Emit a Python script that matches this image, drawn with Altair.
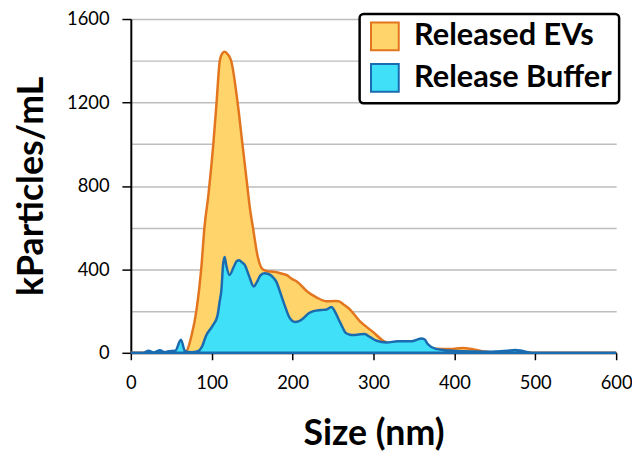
import altair as alt
import pandas as pd

series_names = ["Released EVs", "Release Buffer"]

ev_size = [0, 60, 69, 75, 81, 87, 91, 96, 102, 106, 110, 113, 116, 120, 124, 132, 138, 144, 147,
           151, 157, 163, 170, 177, 186, 194, 198, 206, 218, 230, 242, 252, 257, 263, 269, 283, 300,
           312, 324, 340, 361, 377, 395, 410, 425, 440, 455, 600]
ev_conc = [0, 0, 10, 82, 200, 400, 600, 760, 1000, 1200, 1400, 1435, 1443, 1430, 1400, 1200, 1000, 800, 700,
           600, 459, 400, 390, 389, 380, 370, 357, 340, 294, 265, 247, 248, 247, 232, 215, 152, 98,
           58, 42, 38, 35, 19, 18, 23, 15, 5, 0, 0]

buf_size = [0, 15, 22, 28, 36, 42, 47, 55, 62, 67, 75, 83, 88, 93, 101, 107, 110, 112, 114, 116, 118, 122,
            127, 131, 134, 137, 141, 146, 152, 156, 160, 165, 170, 175, 180, 185, 190, 196, 203, 208,
            214, 220, 226, 235, 242, 248, 252, 257, 262, 265, 270, 275, 282, 289, 296, 304, 316, 330,
            345, 352, 359, 363, 367, 377, 393, 410, 440, 451, 465, 475, 483, 491, 500, 600]
buf_conc = [0, 0, 10, 2, 12, 3, 8, 10, 63, 8, 3, 8, 30, 82, 129, 176, 250, 302, 420, 459, 420, 373,
            410, 440, 444, 435, 420, 370, 318, 340, 370, 381, 378, 365, 340, 286, 230, 170, 148, 152,
            168, 190, 200, 205, 208, 220, 200, 160, 120, 98, 88, 85, 88, 90, 75, 58, 50, 55,
            55, 60, 69, 65, 42, 19, 11, 7, 5, 6, 10, 14, 10, 3, 0, 0]

x_ticks = [0, 100, 200, 300, 400, 500, 600]
y_grid = [0, 200, 400, 600, 800, 1000, 1200, 1400, 1600]

df = pd.concat([
    pd.DataFrame({"size": ev_size, "conc": ev_conc, "series": series_names[0]}),
    pd.DataFrame({"size": buf_size, "conc": buf_conc, "series": series_names[1]}),
])

FONT = "Lato"

fill_scale = alt.Scale(domain=series_names, range=["#FFD56B", "#3FE0F8"])
stroke_scale = alt.Scale(domain=series_names, range=["#E2751E", "#1A6BB0"])

x_enc = alt.X("size:Q", scale=alt.Scale(domain=[0, 600], nice=False),
              axis=alt.Axis(values=x_ticks, title="Size (nm)", grid=False, format="d",
                            labelFlush=False,
                            domainColor="black", domainWidth=2, tickColor="black",
                            tickWidth=1.5, tickSize=7, labelFontSize=18.5, labelFont=FONT,
                            labelColor="black", labelPadding=14,
                            titleFontSize=36, titleFont=FONT, titleFontWeight="bold",
                            titleColor="black", titlePadding=25))
y_enc = alt.Y("conc:Q", scale=alt.Scale(domain=[0, 1600], nice=False),
              stack=None,
              axis=alt.Axis(values=y_grid, title="kParticles/mL", grid=True, format="d",
                            labelFlush=False,
                            gridColor="#BDBDBD", gridWidth=1.5,
                            domainColor="black", domainWidth=2, tickColor="black",
                            tickWidth=1.5, tickSize=9,
                            tickOpacity={"condition": {"test": "datum.value % 400 === 0", "value": 1}, "value": 0},
                            labelExpr="datum.value % 400 === 0 ? datum.label : ''",
                            labelFontSize=18.5, labelFont=FONT, labelColor="black", labelPadding=13,
                            titleFontSize=36, titleFont=FONT, titleFontWeight="bold",
                            titleColor="black", titlePadding=16))

legend = alt.Legend(title=None, orient="none", legendX=231, legendY=-5,
                    symbolType="square", symbolSize=784, symbolStrokeWidth=2,
                    symbolOffset=3,
                    labelFontSize=31, labelFont=FONT, labelFontWeight="bold",
                    labelColor="black", labelOffset=14, rowPadding=5, labelLimit=400,
                    padding=7, strokeColor="black", fillColor="white",
                    cornerRadius=4)

def layer(name):
    return alt.Chart(df).transform_filter(alt.datum.series == name).mark_area(
        interpolate="monotone", fillOpacity=1, strokeWidth=2.5
    ).encode(
        x=x_enc, y=y_enc,
        fill=alt.Fill("series:N", scale=fill_scale, legend=legend),
        stroke=alt.Stroke("series:N", scale=stroke_scale, legend=legend),
    )

chart = alt.layer(layer(series_names[0]), layer(series_names[1])).properties(
    width=490, height=337,
    autosize=alt.AutoSizeParams(type="none"),
    padding={"left": 124, "top": 9, "right": 16, "bottom": 98},
).configure_view(stroke=None).configure_legend(strokeWidth=2.5)

chart.save("out.html", embed_options={"renderer": "svg", "actions": False})
